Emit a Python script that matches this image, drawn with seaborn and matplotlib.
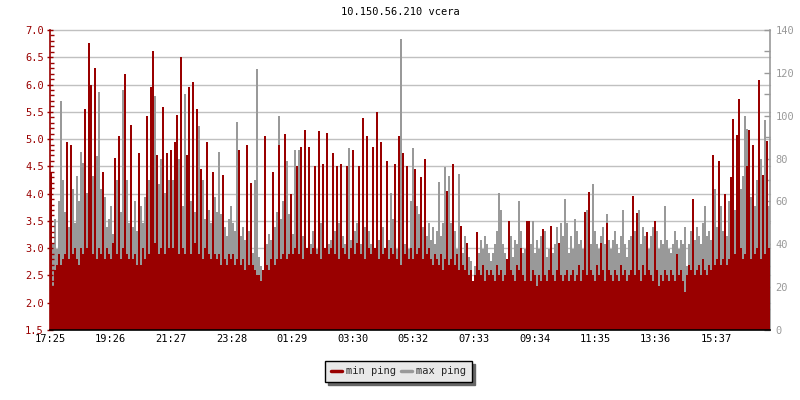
import numpy as np
import pandas as pd
import matplotlib.pyplot as plt
import seaborn as sns
from matplotlib.lines import Line2D
from matplotlib.ticker import MultipleLocator, FormatStrFormatter

sns.set_theme(style="white")
plt.rcParams['font.family'] = ['DejaVu Sans Mono']

RED = '#990000'
GREY = '#999999'

title = "10.150.56.210 vcera"
start_time = "17:25"
step_min = 4  # one sample every 4 minutes, 24 h total
tick_labels = ["17:25", "19:26", "21:27", "23:28", "01:29", "03:30",
               "05:32", "07:33", "09:34", "11:35", "13:36", "15:37"]

# min ping (ms, left axis)
min_ping = [
    4.4, 2.3, 2.6, 2.7, 2.9, 2.7, 2.8, 2.9, 4.95, 2.8, 4.9, 2.9, 3.0, 2.8, 2.7, 3.0, 2.9, 5.55, 3.0, 6.77,
    6.0, 2.9, 6.3, 2.8, 3.0, 2.9, 4.4, 2.8, 3.0, 2.9, 2.8, 3.1, 4.65, 2.9, 5.05, 2.8, 3.0, 6.2, 2.9, 2.8,
    5.25, 2.8, 2.9, 2.7, 4.75, 2.7, 3.0, 2.8, 5.42, 2.9, 5.95, 6.62, 3.1, 4.7, 2.9, 3.0, 5.58, 2.9, 4.75, 3.0,
    4.8, 3.0, 4.95, 5.45, 2.9, 6.5, 3.0, 2.9, 4.7, 5.95, 2.9, 6.05, 3.1, 5.55, 2.9, 4.45, 2.8, 3.0, 4.95, 2.9,
    2.8, 4.4, 2.9, 2.8, 2.9, 2.7, 4.35, 2.8, 2.7, 2.9, 2.8, 2.9, 2.7, 2.8, 4.8, 2.7, 2.8, 2.6, 4.9, 2.7,
    4.2, 2.7, 2.6, 2.5, 2.5, 2.4, 2.6, 5.05, 2.7, 2.6, 2.8, 4.4, 2.7, 2.8, 4.9, 2.8, 2.9, 5.1, 2.8, 2.9,
    4.0, 2.9, 3.0, 4.5, 2.9, 4.85, 2.8, 5.17, 3.0, 4.85, 2.9, 3.0, 4.5, 2.9, 5.15, 2.8, 4.55, 3.0, 5.12, 2.9,
    3.0, 4.75, 2.9, 4.5, 2.8, 4.55, 3.0, 2.9, 4.5, 2.8, 3.0, 4.8, 2.9, 3.1, 4.5, 2.9, 5.38, 2.8, 5.05, 3.0,
    2.9, 4.85, 3.0, 5.5, 2.8, 4.95, 2.9, 3.0, 4.6, 2.8, 3.0, 2.9, 4.55, 2.8, 5.05, 2.7, 4.75, 2.9, 4.5, 2.8,
    3.0, 2.8, 4.45, 2.9, 3.0, 4.3, 2.8, 4.64, 2.9, 3.0, 2.8, 2.7, 2.9, 2.8, 2.7, 2.9, 2.6, 2.8, 4.05, 2.7,
    2.8, 4.55, 2.7, 2.9, 2.6, 3.4, 2.7, 2.6, 3.1, 2.5, 2.6, 2.4, 2.5, 3.3, 2.6, 2.5, 2.7, 2.4, 2.6, 2.5,
    2.6, 2.5, 2.4, 2.7, 2.5, 2.6, 2.4, 2.5, 2.8, 3.5, 2.6, 2.5, 2.4, 2.7, 2.6, 3.0, 2.5, 2.4, 3.5, 3.5,
    2.4, 2.6, 2.5, 2.3, 2.5, 2.4, 3.35, 2.5, 2.4, 2.6, 3.4, 2.5, 2.4, 2.6, 3.1, 2.5, 2.4, 2.5, 2.6, 2.4,
    2.5, 2.6, 2.4, 2.5, 2.7, 2.4, 2.6, 3.67, 2.5, 4.03, 2.6, 2.5, 2.4, 2.7, 2.5, 3.1, 2.6, 2.4, 3.47, 2.6,
    2.5, 2.4, 2.6, 2.5, 2.4, 2.7, 2.5, 2.6, 2.4, 2.5, 2.6, 3.95, 2.5, 3.65, 2.6, 2.4, 2.7, 2.5, 3.3, 2.6,
    2.5, 2.4, 3.5, 2.6, 2.3, 2.5, 2.4, 2.6, 2.5, 2.4, 2.6, 2.5, 2.4, 2.9, 2.5, 2.6, 2.4, 2.2, 2.5, 2.7,
    2.6, 3.9, 2.5, 2.6, 2.7, 2.5, 2.8, 2.6, 2.5, 2.7, 2.6, 4.7, 2.7, 2.8, 4.6, 2.7, 2.8, 4.0, 2.7, 2.8,
    4.3, 5.37, 2.9, 5.08, 5.73, 3.0, 2.8, 2.9, 4.5, 5.17, 2.8, 4.9, 2.9, 3.0, 6.08, 2.8, 4.35, 2.9, 4.97, 3.0,
]

# max ping (ms, right axis)
max_ping = [
    45, 40, 52, 38, 60, 107, 70, 55, 62, 48, 58, 66, 50, 72, 60, 83, 78, 95, 64, 58,
    60, 72, 68, 81, 111, 66, 55, 62, 48, 52, 58, 45, 60, 70, 88, 55, 112, 62, 70, 50,
    55, 48, 60, 46, 52, 58, 50, 62, 66, 70, 58, 75, 109, 72, 68, 80, 72, 64, 76, 70,
    62, 70, 66, 74, 80, 68, 58, 110, 72, 64, 60, 68, 55, 58, 95, 62, 70, 52, 60, 56,
    50, 58, 62, 55, 83, 54, 60, 48, 44, 52, 58, 50, 46, 97, 56, 44, 48, 42, 50, 46,
    40, 36, 70, 122, 34, 30, 28, 32, 40, 45, 42, 50, 48, 55, 100, 52, 60, 58, 79, 54,
    40, 45, 84, 42, 84, 38, 44, 50, 36, 48, 40, 46, 52, 38, 44, 50, 42, 36, 46, 40,
    42, 38, 46, 40, 50, 36, 44, 40, 48, 85, 42, 38, 46, 50, 44, 40, 38, 48, 42, 46,
    40, 44, 38, 46, 42, 40, 48, 36, 44, 42, 64, 52, 40, 38, 44, 136, 42, 40, 46, 38,
    60, 85, 50, 58, 54, 46, 48, 52, 44, 50, 42, 48, 40, 46, 69, 44, 50, 76, 52, 72,
    50, 42, 46, 38, 73, 40, 36, 44, 38, 34, 32, 22, 30, 40, 36, 42, 38, 44, 40, 36,
    32, 36, 40, 46, 64, 56, 40, 36, 30, 38, 44, 34, 42, 40, 60, 46, 36, 38, 42, 44,
    40, 51, 36, 42, 38, 44, 40, 46, 34, 38, 42, 36, 40, 48, 38, 50, 44, 61, 50, 36,
    44, 38, 52, 46, 40, 42, 38, 44, 56, 48, 40, 68, 46, 40, 38, 44, 48, 40, 54, 42,
    38, 42, 46, 40, 36, 44, 56, 40, 34, 42, 44, 38, 46, 42, 56, 40, 48, 44, 42, 38,
    44, 48, 40, 46, 38, 42, 40, 58, 42, 38, 36, 40, 46, 42, 38, 42, 40, 48, 30, 40,
    46, 56, 42, 48, 44, 40, 50, 58, 44, 46, 42, 54, 66, 48, 50, 58, 46, 52, 44, 60,
    64, 70, 56, 74, 60, 66, 72, 100, 94, 68, 62, 76, 58, 70, 64, 80, 72, 98, 60, 58,
]

left_lim = (1.5, 7.0)
right_lim = (0, 140)
day_min = 24 * 60


def to_min(hhmm):
    h, m = hhmm.split(":")
    return int(h) * 60 + int(m)


t0 = to_min(start_time)
tick_pos = [(to_min(s) - t0) % day_min for s in tick_labels]

df = pd.DataFrame({
    "t": np.arange(len(min_ping)) * step_min + step_min / 2,
    "min": min_ping,
    "max": max_ping,
})

fig = plt.figure(figsize=(8, 4), dpi=100)
ax = fig.add_axes([50 / 800, 70 / 400, 720 / 800, 300 / 400])
ax2 = ax.twinx()
# red (left axis) goes on top of grey (right axis)
ax.set_zorder(ax2.get_zorder() + 1)
ax.patch.set_visible(False)
ax2.patch.set_facecolor('white')

sns.barplot(data=df, x="t", y="max", native_scale=True, width=1, color=GREY,
            saturation=1, errorbar=None, linewidth=0, antialiased=False,
            zorder=2, ax=ax2)
sns.barplot(data=df, x="t", y="min", native_scale=True, width=1, color=RED,
            saturation=1, errorbar=None, linewidth=0, antialiased=False,
            zorder=2, ax=ax)

# horizontal grid follows the left scale, drawn under the bars
for v in np.arange(2.0, 7.01, 0.5):
    y = (v - left_lim[0]) / (left_lim[1] - left_lim[0]) * right_lim[1]
    ax2.axhline(y, color='#c0c0c0', lw=1.0, zorder=0, clip_on=False)

ax.set_xlim(0, day_min)
ax.set_ylim(*left_lim)
ax2.set_ylim(*right_lim)
ax.set_xticks(tick_pos)
ax.set_xticklabels(tick_labels)
ax.set_xlabel("")
ax.set_ylabel("")
ax2.set_ylabel("")

fs = 7.5
ax.yaxis.set_major_locator(MultipleLocator(0.5))
ax.yaxis.set_minor_locator(MultipleLocator(0.1))
ax.yaxis.set_major_formatter(FormatStrFormatter('%.1f'))
ax.tick_params(axis='y', which='major', direction='inout', length=5, width=1,
               color=RED, labelcolor=RED, labelsize=fs, pad=2)
ax.tick_params(axis='y', which='minor', direction='in', length=3, width=1, color=RED)
ax.tick_params(axis='x', which='major', direction='in', length=4, width=1,
               color='black', labelcolor='black', labelsize=fs, pad=3)

ax2.yaxis.set_major_locator(MultipleLocator(20))
ax2.yaxis.set_minor_locator(MultipleLocator(10))
ax2.tick_params(axis='y', which='major', direction='in', length=4, width=1,
                color=GREY, labelcolor=GREY, labelsize=fs, pad=4)
ax2.tick_params(axis='y', which='minor', direction='in', length=4, width=1, color=GREY)

for s in ['top', 'right']:
    ax.spines[s].set_visible(False)
ax.spines['left'].set_color(RED)
ax.spines['left'].set_linewidth(1.2)
ax.spines['bottom'].set_color('black')
ax.spines['bottom'].set_linewidth(1.2)
for s in ['top', 'left', 'bottom']:
    ax2.spines[s].set_visible(False)
ax2.spines['right'].set_color(GREY)
ax2.spines['right'].set_linewidth(1.2)

fig.text(0.5, 1 - 12 / 400, title, ha='center', va='center', fontsize=fs, color='black')

handles = [Line2D([], [], color=RED, lw=2.5), Line2D([], [], color=GREY, lw=2.5)]
leg = fig.legend(handles, ["min ping", "max ping"], loc='center',
                 bbox_to_anchor=(0.498, 1 - 371.5 / 400), ncol=2, frameon=True,
                 fancybox=False, shadow={'color': '#666666', 'alpha': 1},
                 framealpha=1, facecolor='#e8e8e8', edgecolor='black',
                 fontsize=fs, handlelength=1.1, handletextpad=0.35,
                 columnspacing=0.5, borderpad=0.55, borderaxespad=0)
leg.get_frame().set_linewidth(1.0)

fig.savefig('out.png', dpi=100)
